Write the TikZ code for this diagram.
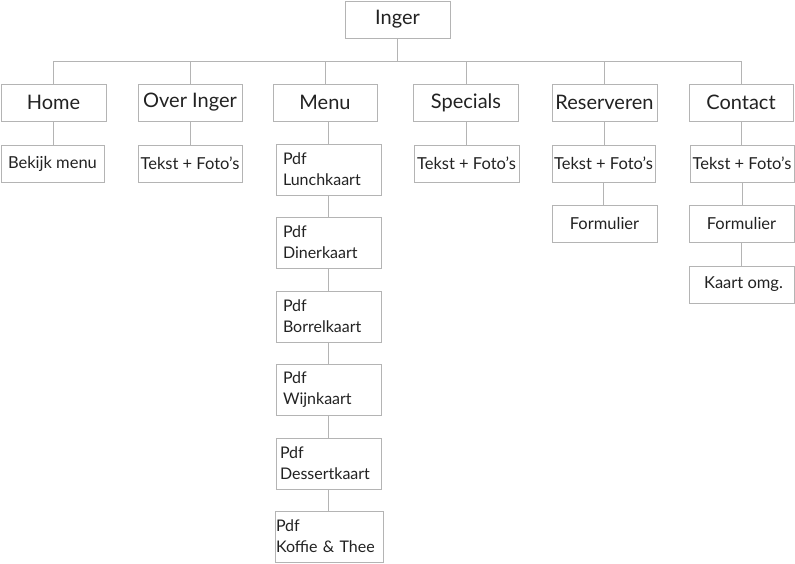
\documentclass[tikz,border=0pt]{standalone}
\usepackage{fontspec}
\setmainfont{Lato}
\usetikzlibrary{positioning}
\definecolor{rule}{HTML}{B4B4B4}
\definecolor{ink}{HTML}{222222}
\tikzset{x=1pt,y=-1pt,
  box/.style={draw=rule,line width=0.8pt,text=ink,inner sep=0pt,
              minimum width=#1,minimum height=37pt,font=\fontsize{20}{22}\selectfont},
  box/.default=105pt,
  leaf/.style={box=#1,font=\fontsize{16.5}{18}\selectfont},
  leaf/.default=104pt,
  pdf/.style={draw=rule,line width=0.8pt,text=ink,inner ysep=0pt,inner xsep=7pt,
              minimum height=51pt,text width=#1,align=left,
              font=\fontsize{16}{21}\selectfont},
  pdf/.default=91pt,
  link/.style={draw=rule,line width=0.8pt}}
\begin{document}
\begin{tikzpicture}
 \useasboundingbox (0,0) rectangle (795,563);
 % top
 \node[box] (inger) at (397.5,19.5) {Inger};
 \coordinate (bus) at (0,61);
 % main pages
 \node[box]       (home)     at (53.5,102.5) {Home};
 \node[box=104pt] (over)     at (190,102.5)  {Over Inger};
 \node[box=104pt] (menu)     at (325,102.5)  {Menu};
 \node[box]       (specials) at (466,102.5)  {Specials};
 \node[box]       (reserv)   at (604.5,102.5){Reserveren};
 \node[box=104pt] (contact)  at (741,102.5)  {Contact};
 % sub pages
 \node[leaf=103pt] (bekijk)    at (52.5,163.5)  {Bekijk menu};
 \node[leaf]       (overtekst) at (190,163.5)   {Tekst + Foto's};
 \node[leaf=105pt] (spectekst) at (466.5,163.5) {Tekst + Foto's};
 \node[leaf=103pt] (restekst)  at (603.5,163.5) {Tekst + Foto's};
 \node[leaf=105pt] (resform)   at (604.5,223.5) {Formulier};
 \node[leaf]       (contekst)  at (742,163.5)   {Tekst + Foto's};
 \node[leaf=105pt] (conform)   at (741.5,223.5) {Formulier};
 \node[leaf=105pt] (kaart)     at (741.5,284.5) {\hspace*{4pt}Kaart omg.};
 % menu cards
 \node[pdf] (lunch)   at (328.5,169.5) {Pdf\\Lunchkaart};
 \node[pdf] (diner)   at (328.5,242.5) {Pdf\\Dinerkaart};
 \node[pdf] (borrel)  at (328.5,316.5) {Pdf\\Borrelkaart};
 \node[pdf] (wijn)    at (328.5,389.5) {Pdf\\Wijnkaart};
 \node[pdf=97pt,inner xsep=4pt]  (dessert) at (328.5,463.5) {Pdf\\Dessertkaart};
 \node[pdf=106pt,inner xsep=1pt] (koffie)  at (329,536.5)   {Pdf\\Koffie \& Thee};
 % connectors
 \foreach \n in {home,over,menu,specials,reserv,contact}
   \draw[link] (inger.south) |- (bus -| \n.north) -- (\n.north);
 \draw[link] (home.south) -- (home.south |- bekijk.north);
 \draw[link] (over.south) -- (over.south |- overtekst.north);
 \draw[link] (specials.south) -- (specials.south |- spectekst.north);
 \draw[link] (reserv.south) -- (reserv.south |- restekst.north);
 \draw[link] (restekst.south) -- (restekst.south |- resform.north);
 \draw[link] (contact.south) -- (contact.south |- contekst.north);
 \draw[link] (contekst.south) -- (contekst.south |- conform.north);
 \draw[link] (conform.south) -- (conform.south |- kaart.north);
 \draw[link] (lunch.north |- menu.south) -- (lunch.north);
 \foreach \a/\b in {lunch/diner,diner/borrel,borrel/wijn,wijn/dessert,dessert/koffie}
   \draw[link] (\a.south) -- (\a.south |- \b.north);
\end{tikzpicture}
\end{document}
